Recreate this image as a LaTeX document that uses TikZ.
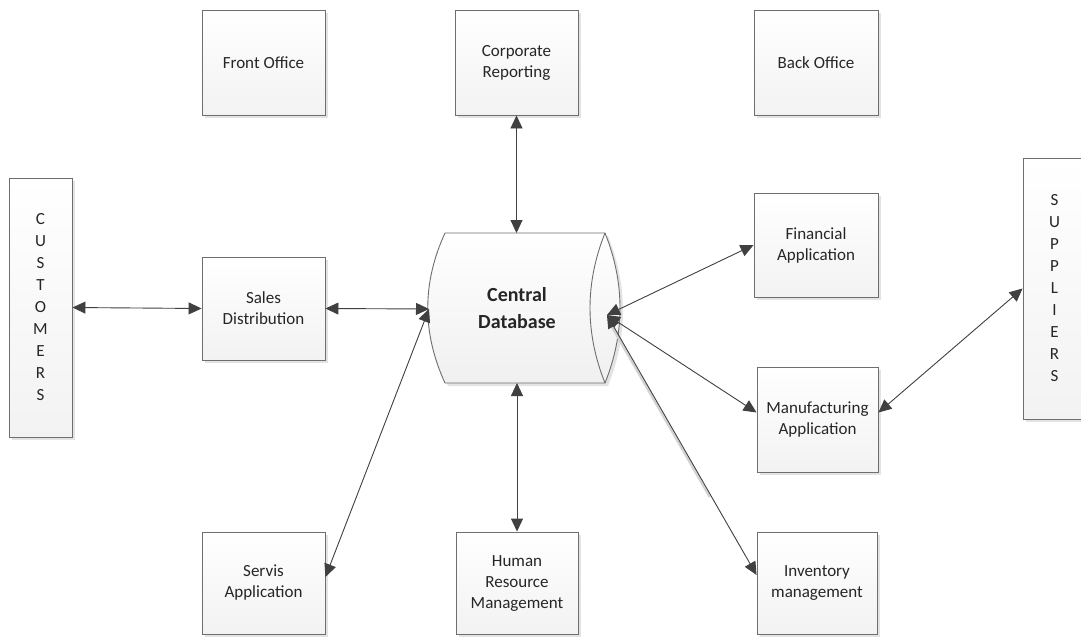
\documentclass[tikz,border=0pt]{standalone}
\usepackage{fontspec}
\setmainfont{Carlito}
\usetikzlibrary{arrows.meta,shadows}
\definecolor{linec}{HTML}{404040}
\definecolor{edgec}{HTML}{6E6E6E}
\definecolor{txt}{HTML}{262626}
\tikzset{
  boxshadow/.style={drop shadow={shadow xshift=3pt, shadow yshift=-3pt, fill=gray!22, opacity=1}},
  box/.style={draw=edgec, line width=0.9pt, top color=white, bottom color=gray!10, boxshadow,
    align=center, font=\fontsize{17}{21}\selectfont, text=txt, inner sep=0pt},
  tallbox/.style={box, font=\fontsize{17}{22}\selectfont},
  link/.style={linec, line width=0.9pt, {Triangle[length=13pt,width=12pt]}-{Triangle[length=13pt,width=12pt]}},
}
\begin{document}
\begin{tikzpicture}[x=1pt,y=-1pt]
\fill[white] (0,0) rectangle (1081,637);
\useasboundingbox (0,0) rectangle (1081,637);

% top row
\node[box, minimum width=123pt, minimum height=105pt] (front) at (263.5,62.5) {Front Office};
\node[box, minimum width=123pt, minimum height=105pt] (corp) at (516.5,62.5) {Corporate\\Reporting};
\node[box, minimum width=124pt, minimum height=105pt] (back) at (816,62.5) {Back Office};

% side boxes
\node[tallbox, minimum width=63pt, minimum height=259pt] (cust) at (40.5,307.5) {C\\U\\S\\T\\O\\M\\E\\R\\S};
\node[tallbox, minimum width=63pt, minimum height=261pt] (sup) at (1054.5,288.5) {S\\U\\P\\P\\L\\I\\E\\R\\S};

% middle row
\node[box, minimum width=123pt, minimum height=103pt] (sales) at (263.5,308.5) {Sales\\Distribution};
\node[box, minimum width=124pt, minimum height=104pt] (fin) at (816,245) {Financial\\Application};
\node[box, minimum width=121pt, minimum height=105pt] (manu) at (817.5,419.5) {Manufacturing\\Application};

% bottom row
\node[box, minimum width=123pt, minimum height=102pt] (serv) at (263.5,583) {Servis\\Application};
\node[box, minimum width=122pt, minimum height=102pt] (hr) at (517,583) {Human\\Resource\\Management};
\node[box, minimum width=120pt, minimum height=102pt] (inv) at (817,583) {Inventory\\management};

% central database (horizontal cylinder)
\path[draw=edgec, line width=0.9pt, top color=white, bottom color=gray!12, boxshadow]
  (445,233) -- (605,233) .. controls (625,283) and (625,333) .. (605,383)
  -- (445,383) .. controls (422,333) and (422,283) .. (445,233) -- cycle;
\draw[edgec, line width=0.9pt] (605,233) .. controls (585,283) and (585,333) .. (605,383);
\node[align=center, font=\bfseries\fontsize{20}{27}\selectfont, text=txt] (db) at (517,308) {Central\\Database};
\coordinate (dbL) at (429,309);
\coordinate (dbR) at (607,315);
\coordinate (dbT) at (516.5,233);
\coordinate (dbB) at (517,383);

% connectors
\draw[link] (cust.east) -- (sales.west);
\draw[link] (sales.east) -- (dbL);
\draw[link] (corp.south) -- (dbT);
\draw[link] (dbB) -- (hr.north);
\draw[link] ([yshift=6pt]serv.east) -- (dbL);
\draw[link] (dbR) -- (fin.west);
\draw[link] (dbR) -- ([yshift=7pt]manu.west);
\draw[gray!35, line width=2.2pt, shorten >=90pt, shorten <=8pt] ([xshift=-2pt]dbR) -- ([xshift=-2pt,yshift=8pt]inv.west);
\draw[link] (dbR) -- ([yshift=8pt]inv.west);
\draw[link] ([yshift=7pt]manu.east) -- (sup.west);
\end{tikzpicture}
\end{document}
